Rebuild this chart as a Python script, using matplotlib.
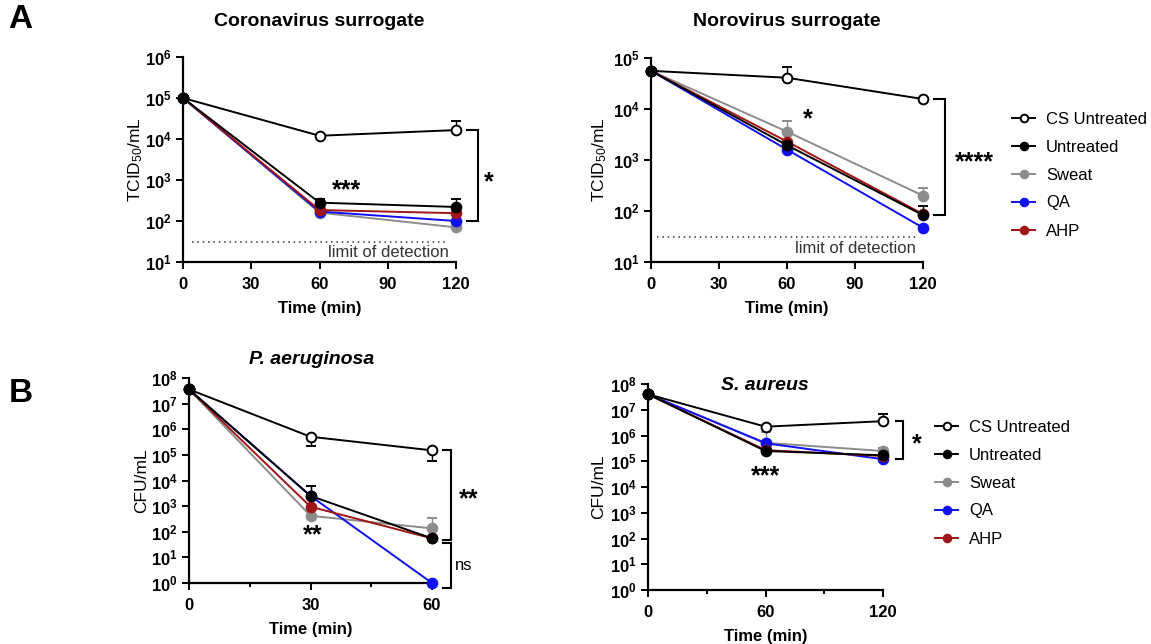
import matplotlib
matplotlib.use('Agg')
import matplotlib.pyplot as plt
from matplotlib.lines import Line2D
from matplotlib.ticker import FixedLocator, FixedFormatter, NullLocator

plt.rcParams['font.family'] = ['Liberation Sans', 'DejaVu Sans']
plt.rcParams['mathtext.fontset'] = 'custom'
plt.rcParams['mathtext.rm'] = 'Liberation Sans'
plt.rcParams['mathtext.bf'] = 'Liberation Sans:bold'
plt.rcParams['mathtext.it'] = 'Liberation Sans:italic'

# ---------------- data ----------------
series_names = ['CS Untreated', 'Untreated', 'Sweat', 'QA', 'AHP']
series_colors = ['black', 'black', '#8c8c8c', '#1010f0', '#a01515']

# Coronavirus surrogate (TCID50/mL)
cov_time = [0, 60, 120]
cov_cs = [1.0e5, 1.2e4, 1.65e4]
cov_untreated = [1.0e5, 280, 220]
cov_sweat = [1.0e5, 160, 70]
cov_qa = [1.0e5, 170, 100]
cov_ahp = [1.0e5, 185, 155]
cov_cs_err = [0, 0, 1.1e4]
cov_untreated_err = [0, 60, 130]
cov_lod = 31.6

# Norovirus surrogate (TCID50/mL)
nov_time = [0, 60, 120]
nov_cs = [5.6e4, 4.1e4, 1.57e4]
nov_untreated = [5.6e4, 1950, 83]
nov_sweat = [5.6e4, 3600, 200]
nov_qa = [5.6e4, 1600, 47]
nov_ahp = [5.6e4, 2300, 87]
nov_cs_err = [0, 2.6e4, 0]
nov_untreated_err = [0, 0, 40]
nov_sweat_err = [0, 2100, 80]
nov_lod = 31.6

# P. aeruginosa (CFU/mL)
pa_time = [0, 30, 60]
pa_cs = [3.6e7, 5.1e5, 1.5e5]
pa_untreated = [3.6e7, 2500, 55]
pa_sweat = [3.6e7, 420, 135]
pa_qa = [3.6e7, 2500, 1]
pa_ahp = [3.6e7, 950, 55]
pa_cs_err_low = [0, 2.9e5, 9.2e4]
pa_untreated_err = [0, 3500, 0]
pa_sweat_err = [0, 0, 215]

# S. aureus (CFU/mL)
sa_time = [0, 60, 120]
sa_cs = [4.0e7, 2.2e6, 3.6e6]
sa_untreated = [4.0e7, 2.5e5, 1.7e5]
sa_sweat = [4.0e7, 5.2e5, 2.5e5]
sa_qa = [4.0e7, 5.0e5, 1.2e5]
sa_ahp = [4.0e7, 2.7e5, 1.6e5]
sa_cs_err = [0, 0, 3.1e6]
sa_sweat_err = [0, 8.9e5, 0.9e5]

cov_xticks = [0, 30, 60, 90, 120]
nov_xticks = [0, 30, 60, 90, 120]
pa_xticks = [0, 30, 60]
pa_xminor = [15, 45]
sa_xticks = [0, 60, 120]
sa_xminor = [30, 90]
cov_exps = [1, 2, 3, 4, 5, 6]
nov_exps = [1, 2, 3, 4, 5]
pa_exps = [0, 1, 2, 3, 4, 5, 6, 7, 8]
sa_exps = [0, 1, 2, 3, 4, 5, 6, 7, 8]

# ---------------- figure ----------------
W, H = 1151, 644
fig = plt.figure(figsize=(W / 100, H / 100), dpi=100)


def px_axes(x0, x1, ytop, ybot):
    return fig.add_axes([x0 / W, 1 - ybot / H, (x1 - x0) / W, (ybot - ytop) / H])


LW = 1.4
MS = 7
STAR = 18
FS = 12


def zero(n):
    return [0] * n


def draw(ax, t, cs, un, sw, qa, ahp, errs):
    order = [(2, sw), (3, qa), (4, ahp), (0, cs), (1, un)]
    for k, (idx, vals) in enumerate(order):
        c = series_colors[idx]
        lo, hi = errs.get(idx, (zero(len(t)), zero(len(t))))
        mfc = 'white' if idx == 0 else c
        ax.errorbar(t, vals, yerr=[lo, hi], color=c, lw=LW, marker='o', ms=MS,
                    mfc=mfc, mec=c, mew=1.4, capsize=3.5, elinewidth=1.0,
                    capthick=1.0, clip_on=False, zorder=3 + k * 0.1)


def style(ax, xticks, xminor, exps, ylabel, ypad):
    ax.set_yscale('log')
    ax.set_xlim(xticks[0], xticks[-1])
    ax.set_ylim(10.0 ** exps[0], 10.0 ** exps[-1])
    for s in ['top', 'right']:
        ax.spines[s].set_visible(False)
    for s in ['left', 'bottom']:
        ax.spines[s].set_linewidth(1.6)
    ax.xaxis.set_major_locator(FixedLocator(xticks))
    ax.set_xticklabels([str(v) for v in xticks], fontweight='bold', fontsize=FS)
    if xminor:
        ax.xaxis.set_minor_locator(FixedLocator(xminor))
    else:
        ax.xaxis.set_minor_locator(NullLocator())
    ax.yaxis.set_major_locator(FixedLocator([10.0 ** e for e in exps]))
    ax.yaxis.set_major_formatter(FixedFormatter([r'$\mathbf{10^{%d}}$' % e for e in exps]))
    ax.yaxis.set_minor_locator(NullLocator())
    ax.tick_params(axis='both', which='major', length=5, width=1.4, labelsize=FS, pad=3)
    ax.tick_params(axis='x', which='major', pad=6)
    ax.tick_params(axis='x', which='minor', length=3, width=1.4)
    ax.set_xlabel('Time (min)', fontweight='bold', fontsize=FS, labelpad=6.5)
    ax.set_ylabel(ylabel, fontsize=12.5, labelpad=ypad)
    ax.patch.set_alpha(0)


def bracket(ax, x0, x1, ytop, ybot):
    ax.plot([x0, x1, x1, x0], [ytop, ytop, ybot, ybot], color='black', lw=1.5,
            clip_on=False, solid_joinstyle='miter')


def stars(ax, x, y, s):
    ax.text(x, y, s, ha='center', va='center', fontsize=STAR, fontweight='bold')


tc = r'TCID$_{50}$/mL'

# A left: coronavirus
ax1 = px_axes(183, 456, 57, 262)
draw(ax1, cov_time, cov_cs, cov_untreated, cov_sweat, cov_qa, cov_ahp,
     {0: (zero(3), cov_cs_err), 1: (zero(3), cov_untreated_err)})
style(ax1, cov_xticks, None, cov_exps, tc, 0)
ax1.plot([4, 116], [cov_lod, cov_lod], ls=(0, (1, 2.5)), color='#333333', lw=1.1)
ax1.text(117, 17.5, 'limit of detection', ha='right', va='center', fontsize=FS, color='#333333')
bracket(ax1, 124.8, 129.7, cov_cs[-1], 100)
stars(ax1, 134.5, 0.9e3, '*')
stars(ax1, 72, 560, '***')

# A right: norovirus
ax2 = px_axes(651, 923, 58, 262)
draw(ax2, nov_time, nov_cs, nov_untreated, nov_sweat, nov_qa, nov_ahp,
     {0: (zero(3), nov_cs_err), 1: (zero(3), nov_untreated_err), 2: (zero(3), nov_sweat_err)})
style(ax2, nov_xticks, None, nov_exps, tc, 2.5)
ax2.plot([2.6, 117], [nov_lod, nov_lod], ls=(0, (1, 2.5)), color='#333333', lw=1.1)
ax2.text(117, 18, 'limit of detection', ha='right', va='center', fontsize=FS, color='#333333')
bracket(ax2, 124.8, 129.7, nov_cs[-1], nov_untreated[-1])
stars(ax2, 142.5, 0.9e3, '****')
stars(ax2, 69, 6.3e3, '*')

# B left: P. aeruginosa
ax3 = px_axes(189, 432, 378, 583)
draw(ax3, pa_time, pa_cs, pa_untreated, pa_sweat, pa_qa, pa_ahp,
     {0: (pa_cs_err_low, zero(3)), 1: (zero(3), pa_untreated_err),
      3: (zero(3), pa_untreated_err), 2: (zero(3), pa_sweat_err)})
style(ax3, pa_xticks, pa_xminor, pa_exps, 'CFU/mL', 1.5)
bracket(ax3, 62.7, 64.7, pa_cs[-1], 47)
bracket(ax3, 62.7, 64.7, 37, 0.65)
stars(ax3, 69.0, 1.9e3, '**')
ax3.text(67.8, 4.7, 'ns', ha='center', va='center', fontsize=FS)
stars(ax3, 30.6, 75, '**')

# B right: S. aureus
ax4 = px_axes(648, 883, 384, 590)
draw(ax4, sa_time, sa_cs, sa_untreated, sa_sweat, sa_qa, sa_ahp,
     {0: (zero(3), sa_cs_err), 2: (zero(3), sa_sweat_err)})
style(ax4, sa_xticks, sa_xminor, sa_exps, 'CFU/mL', 2.5)
bracket(ax4, 126.6, 130.2, sa_cs[-1], 1.2e5)
stars(ax4, 137.4, 4.4e5, '*')
stars(ax4, 59.8, 2.7e4, '***')

# titles
fig.text(319 / W, 1 - 22 / H, 'Coronavirus surrogate', ha='center', va='center',
         fontsize=14, fontweight='bold')
fig.text(787 / W, 1 - 22 / H, 'Norovirus surrogate', ha='center', va='center',
         fontsize=14, fontweight='bold')
fig.text(312 / W, 1 - 359 / H, 'P. aeruginosa', ha='center', va='center',
         fontsize=14, fontweight='bold', style='italic')
fig.text(765 / W, 1 - 385 / H, 'S. aureus', ha='center', va='center',
         fontsize=14, fontweight='bold', style='italic')

fig.text(20 / W, 1 - 20 / H, 'A', ha='center', va='center', fontsize=24, fontweight='bold')
fig.text(21 / W, 1 - 393 / H, 'B', ha='center', va='center', fontsize=24, fontweight='bold')

# legends
handles = []
for i, (n, c) in enumerate(zip(series_names, series_colors)):
    handles.append(Line2D([], [], color=c, lw=LW, marker='o', ms=5.5,
                          mfc='white' if i == 0 else c, mec=c, mew=1.4))
for (lx, ly) in [(1012, 111.5), (935, 419.5)]:
    fig.legend(handles, series_names, loc='upper left',
               bbox_to_anchor=(lx / W, 1 - ly / H), frameon=False, fontsize=FS,
               borderpad=0, borderaxespad=0, handlelength=1.38, handletextpad=0.66,
               labelspacing=0.78)

fig.savefig('out.png', dpi=100)
